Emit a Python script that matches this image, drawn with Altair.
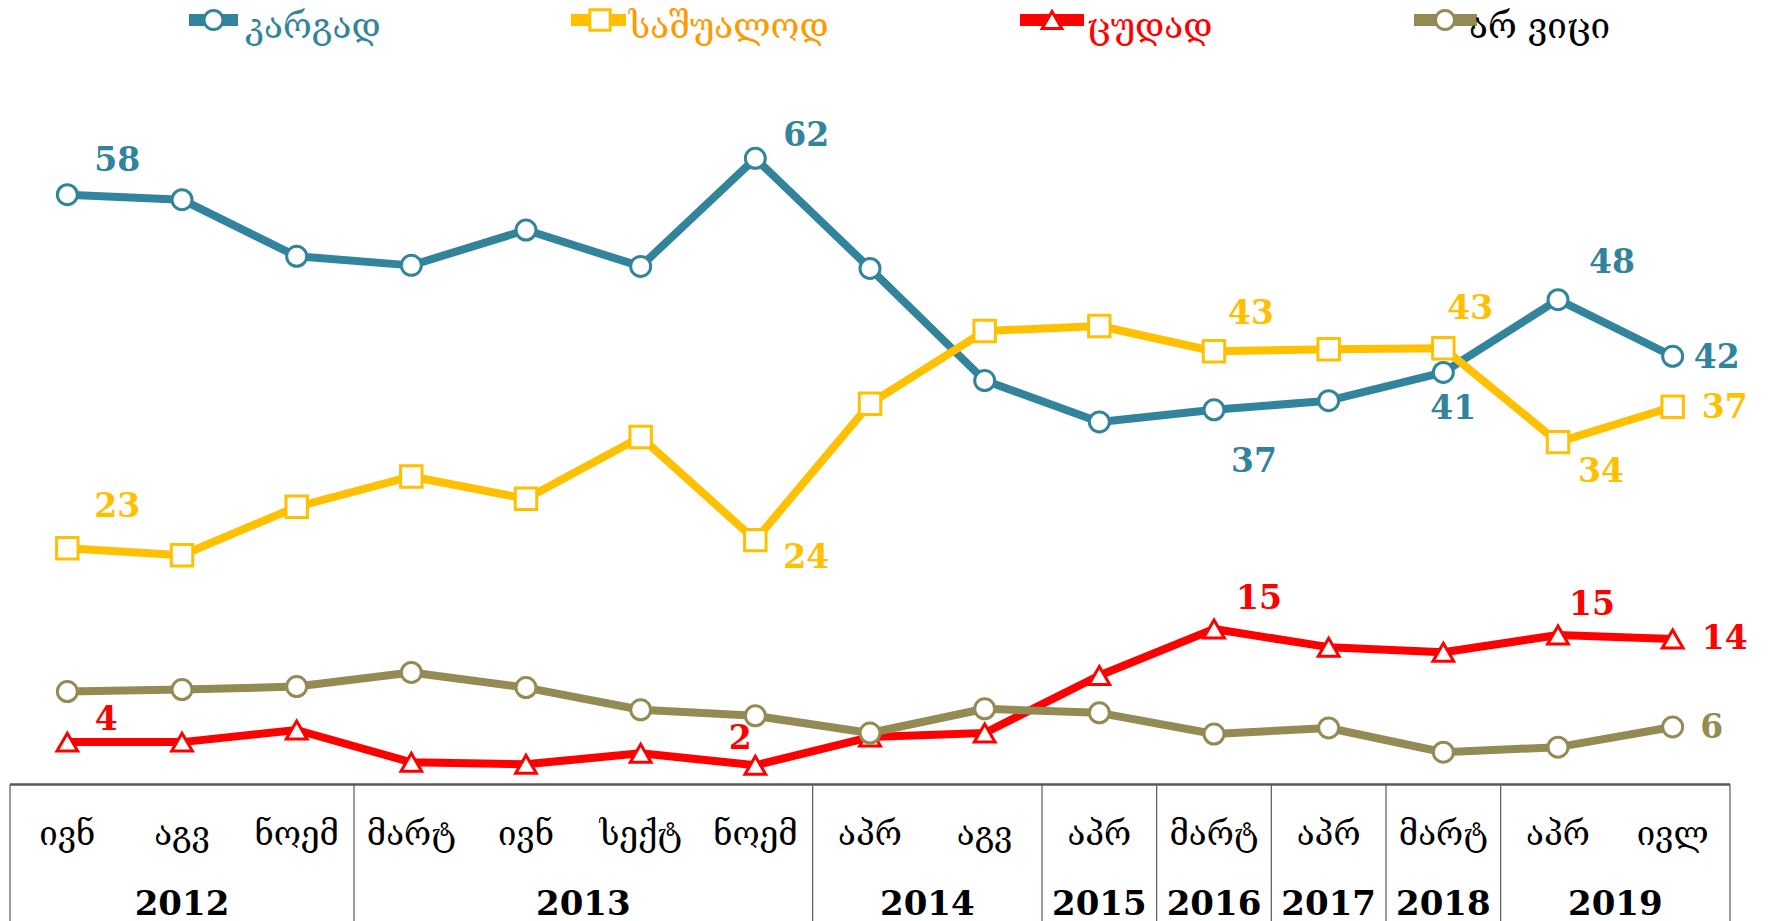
import altair as alt
import pandas as pd

# ---------------- data ----------------
months = ["ივნ", "აგვ", "ნოემ", "მარტ", "ივნ", "სექტ", "ნოემ", "აპრ", "აგვ",
          "აპრ", "მარტ", "აპრ", "მარტ", "აპრ", "ივლ"]
years = ["2012", "2012", "2012", "2013", "2013", "2013", "2013", "2014", "2014",
         "2015", "2016", "2017", "2018", "2019", "2019"]
series_keys = ["good", "average", "bad", "dont_know"]
series_names = ["კარგად", "საშუალოდ", "ცუდად", "არ ვიცი"]
good = [58.4, 57.9, 52.3, 51.4, 54.9, 51.3, 62.0, 51.1, 40.0, 35.9, 37.1, 38.0, 40.8, 48.0, 42.4]
average = [23.4, 22.7, 27.5, 30.5, 28.3, 34.4, 24.2, 37.7, 44.9, 45.4, 42.9, 43.1, 43.2, 33.9, 37.4]
bad = [4.2, 4.2, 5.4, 2.2, 2.0, 3.1, 1.9, 4.7, 5.1, 10.8, 15.4, 13.6, 13.1, 14.8, 14.4]
dont_know = [9.2, 9.4, 9.7, 11.1, 9.6, 7.4, 6.8, 5.1, 7.5, 7.1, 5.0, 5.6, 3.2, 3.7, 5.7]
series_values = [good, average, bad, dont_know]
# which points carry a data label (index of the survey wave)
labeled = {
    "good": [0, 6, 10, 12, 13, 14],
    "average": [0, 6, 10, 12, 13, 14],
    "bad": [0, 6, 10, 13, 14],
    "dont_know": [14],
}

# ---------------- styles / layout ----------------
LINE_COL = {"good": "#31849B", "average": "#FFC000", "bad": "#FF0000", "dont_know": "#948A54"}
LEG_TXT_COL = {"good": "#31849B", "average": "#FF9900", "bad": "#FF0000", "dont_know": "#000000"}
SHAPE = {"good": "circle", "average": "square", "bad": "triangle-up", "dont_know": "circle"}
MSIZE = {"good": 400, "average": 460, "bad": 430, "dont_know": 400}
# label offsets in px (dx, dy) per labeled point
LBL_OFF = {
    "good": [(50, -34), (51, -22), (40, 52), (10, 37), (54, -37), (44, 2)],
    "average": [(50, -41), (51, 18), (37, -37), (27, -39), (43, 30), (52, 1)],
    "bad": [(39, -22), (-15, -26), (45, -30), (34, -30), (52, 0)],
    "dont_know": [(39, 1)],
}
# legend layout (px in plot coordinates)
LEG = {
    "good": (179, 228, 203.5, 235),
    "average": (561, 616, 590, 619),
    "bad": (1010, 1074, 1042, 1077),
    "dont_know": (1404, 1467, 1435, 1459),
}
W, H = 1720, 913
NUM_FONT = "DejaVu Serif"
GEO_FONT = "DejaVu Serif"

rows = []
for key, name, vals in zip(series_keys, series_names, series_values):
    for i, v in enumerate(vals):
        rows.append({"key": key, "series": name, "idx": i, "value": v})
df = pd.DataFrame(rows)

xs = alt.Scale(domain=[-0.5, len(months) - 0.5], nice=False, zero=False)
ys = alt.Scale(domain=[-13.51, 76.88], nice=False, zero=False)
X = lambda f: alt.X(f, scale=xs, axis=None)
Y = lambda f: alt.Y(f, scale=ys, axis=None)

layers = []

# ---- table at the bottom ----
top_df = pd.DataFrame({"y0": [0]})
layers.append(alt.Chart(top_df).mark_rule(color="#595959", strokeWidth=2.5)
              .encode(y=Y("y0:Q"), x=alt.value(0), x2=alt.value(W)))
bounds = [-0.5] + [i - 0.5 for i in range(1, len(years)) if years[i] != years[i - 1]] + [len(years) - 0.5]
bdf = pd.DataFrame({"b": bounds, "y0": [0] * len(bounds)})
layers.append(alt.Chart(bdf).mark_rule(color="#595959", strokeWidth=1.2)
              .encode(x=X("b:Q"), y=Y("y0:Q"), y2=alt.value(H)))
mdf = pd.DataFrame({"idx": list(range(len(months))), "month": months})
layers.append(alt.Chart(mdf).mark_text(font=GEO_FONT, fontSize=33, color="#000000", baseline="middle")
              .encode(x=X("idx:Q"), y=alt.value(827), text="month:N"))
ydf = pd.DataFrame({"idx": list(range(len(years))), "year": years}).groupby("year", as_index=False)["idx"].mean()
layers.append(alt.Chart(ydf).mark_text(font=NUM_FONT, fontSize=34, fontWeight="bold", color="#000000",
                                       baseline="alphabetic")
              .encode(x=X("idx:Q"), y=alt.value(907), text="year:N"))

# ---- series ----
for key in series_keys:
    c = LINE_COL[key]
    base = alt.Chart(df).transform_filter(f"datum.key == '{key}'")
    layers.append(base.mark_line(color=c, strokeWidth=8, strokeJoin="round")
                  .encode(x=X("idx:Q"), y=Y("value:Q")))
    layers.append(base.mark_point(shape=SHAPE[key], size=MSIZE[key], fill="white", fillOpacity=1,
                                  stroke=c, strokeWidth=3, opacity=1)
                  .encode(x=X("idx:Q"), y=Y("value:Q")))

# ---- data labels ----
for key in series_keys:
    for i, (dx, dy) in zip(labeled[key], LBL_OFF[key]):
        layers.append(alt.Chart(df).transform_filter(f"datum.key == '{key}' && datum.idx == {i}")
                      .mark_text(font=NUM_FONT, fontSize=33, fontWeight="bold", color=LINE_COL[key],
                                 dx=dx, dy=dy, baseline="middle", align="center")
                      .encode(x=X("idx:Q"), y=Y("value:Q"), text=alt.Text("value:Q", format=".0f")))

# ---- legend ----
for key, name in zip(series_keys, series_names):
    x0, x1, xc, xt = LEG[key]
    c = LINE_COL[key]
    layers.append(alt.Chart(top_df).mark_rule(color=c, strokeWidth=12)
                  .encode(x=alt.value(x0), x2=alt.value(x1), y=alt.value(12)))
    layers.append(alt.Chart(top_df).mark_point(shape=SHAPE[key], size=MSIZE[key] * 0.9, fill="white", fillOpacity=1,
                                               stroke=c, strokeWidth=3, opacity=1)
                  .encode(x=alt.value(xc), y=alt.value(12)))
    layers.append(alt.Chart(top_df).mark_text(font=GEO_FONT, fontSize=35, color=LEG_TXT_COL[key],
                                              align="left", baseline="middle")
                  .encode(x=alt.value(xt), y=alt.value(19), text=alt.value(name)))

chart = alt.layer(*layers).properties(
    width=W, height=H,
    autosize=alt.AutoSizeParams(type="none"),
    padding={"left": 2, "top": 0, "right": 28, "bottom": 0},
    background="white",
).configure_view(stroke=None)

chart.save("out.html", embed_options={"renderer": "svg", "actions": False})
